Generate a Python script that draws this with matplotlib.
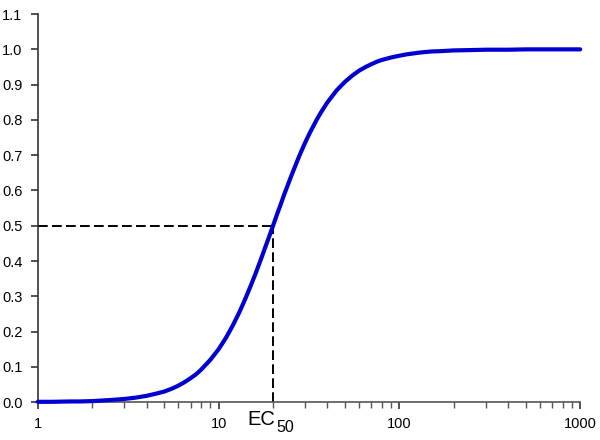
import matplotlib
matplotlib.use('Agg')
import matplotlib.pyplot as plt
from matplotlib.ticker import LogLocator, FixedLocator, NullFormatter

plt.rcParams['font.family'] = ['Liberation Sans', 'DejaVu Sans']

# dose-response curve
conc = [1, 1.2, 1.5, 1.7, 2, 2.5, 3, 3.5, 4, 4.5,
        5, 5.5, 6, 6.5, 7, 7.5, 8, 9, 10, 11,
        12, 13, 14, 15, 16, 17, 18, 19, 20, 21,
        22, 23, 24, 25, 26, 28, 30, 32, 35, 37,
        40, 45, 50, 55, 60, 65, 70, 75, 80, 90,
        100, 110, 130, 150, 170, 200, 250, 300, 400, 500,
        600, 800, 1000]
response = [0.001, 0.001, 0.002, 0.002, 0.003, 0.006, 0.009, 0.013, 0.018, 0.024,
            0.030, 0.038, 0.047, 0.057, 0.068, 0.079, 0.092, 0.120, 0.150, 0.183,
            0.218, 0.254, 0.291, 0.328, 0.364, 0.400, 0.435, 0.468, 0.500, 0.531,
            0.559, 0.587, 0.612, 0.636, 0.658, 0.699, 0.734, 0.764, 0.802, 0.823,
            0.850, 0.884, 0.908, 0.926, 0.940, 0.950, 0.958, 0.965, 0.970, 0.977,
            0.982, 0.986, 0.991, 0.994, 0.995, 0.997, 0.998, 0.999, 0.999, 1.0,
            1.0, 1.0, 1.0]
ec50 = 20
half = 0.5
y_ticks = [0.0, 0.1, 0.2, 0.3, 0.4, 0.5, 0.6, 0.7, 0.8, 0.9, 1.0, 1.1]
x_ticks = [1, 10, 100, 1000]

fig = plt.figure(figsize=(6, 4.4), dpi=100)
ax = fig.add_axes([0.063, 0.086, 0.904, 0.882])

ax.plot(conc, response, color='#0000d0', lw=3, solid_capstyle='round',
        solid_joinstyle='round', zorder=3, clip_on=False)
ax.plot([1, ec50], [half, half], color='black', lw=1.4, dashes=(5, 2.2), zorder=2, clip_on=False)
ax.plot([ec50, ec50], [0, half], color='black', lw=1.4, dashes=(5, 2.2), zorder=2, clip_on=False)

ax.set_xscale('log')
ax.set_xlim(1, 1000)
ax.set_ylim(0, 1.1)

ax.xaxis.set_major_locator(FixedLocator(x_ticks))
ax.set_xticklabels([str(t) for t in x_ticks])
ax.xaxis.set_minor_locator(LogLocator(base=10, subs=range(2, 10)))
ax.xaxis.set_minor_formatter(NullFormatter())
ax.set_yticks(y_ticks)
ax.set_yticklabels([f'{t:.1f}' for t in y_ticks])

for s in ['top', 'right']:
    ax.spines[s].set_visible(False)
ax.spines['left'].set_color('#333333')
ax.spines['bottom'].set_color('#555555')
ax.spines['left'].set_linewidth(1.2)
ax.spines['bottom'].set_linewidth(1.2)

ax.tick_params(axis='both', which='major', direction='out', length=5, width=1.2,
               labelsize=10.5, colors='#333333', labelcolor='black', pad=6)
ax.tick_params(axis='x', which='minor', direction='out', length=4, width=1.0, colors='#555555')

# EC50 label under the dashed line
ax.annotate('EC', xy=(ec50, 0), xytext=(1.5, -5.5), textcoords='offset points',
            ha='right', va='top', fontsize=14.5)
ax.annotate('50', xy=(ec50, 0), xytext=(2.5, -13), textcoords='offset points',
            ha='left', va='top', fontsize=11.5)

fig.savefig('out.png', dpi=100)
